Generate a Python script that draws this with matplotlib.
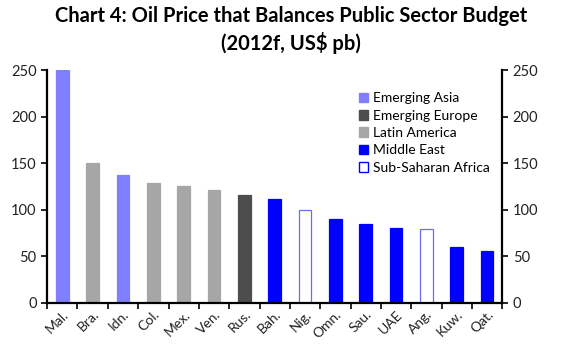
import matplotlib
matplotlib.use("Agg")
import matplotlib.pyplot as plt
from matplotlib.patches import Patch

plt.rcParams['font.family'] = ['Lato', 'DejaVu Sans']

# data
countries = ['Mal.', 'Bra.', 'Idn.', 'Col.', 'Mex.', 'Ven.', 'Rus.', 'Bah.',
             'Nig.', 'Omn.', 'Sau.', 'UAE', 'Ang.', 'Kuw.', 'Qat.']
prices = [250, 150, 137, 129, 125, 121, 116, 111, 100, 90, 85, 80, 79, 60, 55]
regions = ['Asia', 'Latam', 'Asia', 'Latam', 'Latam', 'Latam', 'Europe', 'ME',
           'SSA', 'ME', 'ME', 'ME', 'SSA', 'ME', 'ME']

region_names = ['Emerging Asia', 'Emerging Europe', 'Latin America',
                'Middle East', 'Sub-Saharan Africa']
region_keys = ['Asia', 'Europe', 'Latam', 'ME', 'SSA']
fills = {'Asia': '#7f7fff', 'Europe': '#4d4d4d', 'Latam': '#a6a6a6',
         'ME': '#0000ff', 'SSA': 'white'}
edges = {'Asia': '#7f7fff', 'Europe': '#4d4d4d', 'Latam': '#a6a6a6',
         'ME': '#0000ff', 'SSA': '#6a6aff'}

fig = plt.figure(figsize=(5.82, 3.56), dpi=100)
ax = fig.add_axes([0.081, 0.150, 0.782, 0.653])

x = list(range(len(countries)))
ax.bar(x, prices, width=0.42,
       color=[fills[r] for r in regions],
       edgecolor=[edges[r] for r in regions], linewidth=0.9)

ax.set_xlim(-0.5, len(countries) - 0.5)
ax.set_ylim(0, 250)
ax.set_yticks(range(0, 251, 50))
ax.set_xticks([i - 0.5 for i in range(len(countries) + 1)], minor=False)
ax.set_xticklabels([])
ax.set_xticks(x, minor=True)
ax.set_xticklabels(countries, minor=True, rotation=45, ha='right',
                   rotation_mode='anchor', fontsize=10, color='#222222')
ax.tick_params(axis='x', which='minor', length=0, pad=4)
ax.tick_params(axis='x', which='major', length=4, width=1.2, direction='out')

ax.tick_params(axis='y', which='both', direction='out', length=4, width=1.2,
               labelsize=10.5, left=True, right=True,
               labelleft=True, labelright=True, labelcolor='#222222')

ax.spines['top'].set_visible(False)
for s in ['left', 'right', 'bottom']:
    ax.spines[s].set_linewidth(1.6)

handles = [Patch(facecolor=fills[k], edgecolor=edges[k] if k != 'SSA' else '#0000ff',
                 linewidth=1) for k in region_keys]
ax.legend(handles, region_names, loc='upper right', bbox_to_anchor=(0.99, 0.94),
          frameon=False, fontsize=10, handlelength=0.7, handleheight=0.7,
          handletextpad=0.3, labelspacing=0.38, borderaxespad=0.2)

fig.text(0.5, 0.955, 'Chart 4: Oil Price that Balances Public Sector Budget',
         ha='center', va='center', fontsize=14.5, fontweight='bold')
fig.text(0.5, 0.88, '(2012f, US$ pb)', ha='center', va='center',
         fontsize=14.5, fontweight='bold')

fig.savefig('out.png', dpi=100)
